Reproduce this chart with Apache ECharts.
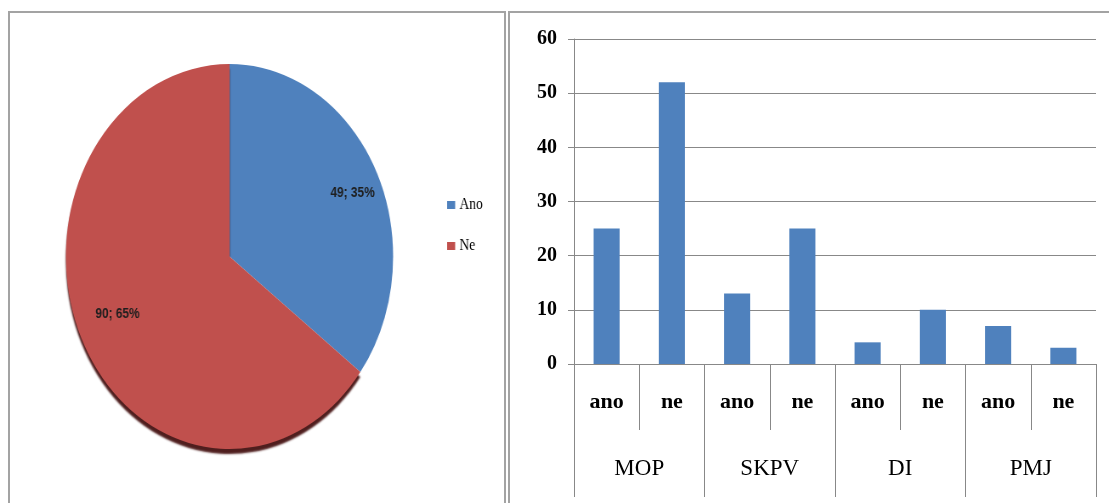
<!DOCTYPE html>
<html>
<head>
<meta charset="utf-8">
<script src="https://cdn.jsdelivr.net/npm/echarts@6/dist/echarts.min.js"></script>
<style>
  html, body { margin: 0; padding: 0; background: #fff; }
  #main { position: absolute; left: 0; top: 0; width: 1109px; height: 503px; }
  /* the pie is an ellipse in the picture: draw a round pie and squash it sideways */
  #pie { position: absolute; left: 0; top: 0; width: 600px; height: 503px;
         transform: scaleX(0.85); transform-origin: 0 0; }
</style>
</head>
<body>
<div id="main"></div>
<div id="pie"></div>
<script>
// pie data
var pieNames = ["Ano", "Ne"];
var pieValues = [49, 90];
var pieColors = ["#4f81bd", "#c0504d"];

// bar data
var subCategories = ["ano", "ne", "ano", "ne", "ano", "ne", "ano", "ne"];
var groups = ["MOP", "SKPV", "DI", "PMJ"];
var barValues = [25, 52, 13, 25, 4, 10, 7, 3];

// y axis ticks
var yMin = 0;
var yMax = 60;
var yStep = 10;

var pieChart = echarts.init(document.getElementById("pie"));
var mainChart = echarts.init(document.getElementById("main"));

var pieData = [];
for (var i = 0; i < pieNames.length; i++) {
  var item = { name: pieNames[i], value: pieValues[i], itemStyle: { color: pieColors[i] } };
  if (i === 1) {
    // dark edge under the red slice
    item.itemStyle.shadowColor = "rgba(70,18,18,0.95)";
    item.itemStyle.shadowOffsetY = 5;
    item.itemStyle.shadowBlur = 2;
  }
  pieData.push(item);
}

var labelShift = [
  { dx: 56, dy: -19 },
  { dx: -43, dy: 13 },
];

pieChart.setOption({
  animation: false,
  legend: {
    data: pieNames,
    orient: "vertical",
    left: 521,
    top: 192,
    icon: "rect",
    itemWidth: 9.5,
    itemHeight: 8,
    itemGap: 25,
    selectedMode: false,
    textStyle: { fontFamily: "Liberation Serif", fontSize: 16, color: "#000" },
  },
  series: [
    {
      type: "pie",
      center: [270, 256.5],
      radius: 192.5,
      startAngle: 90,
      clockwise: true,
      percentPrecision: 0,
      avoidLabelOverlap: false,
      silent: true,
      itemStyle: { borderWidth: 0 },
      label: {
        show: true,
        position: "inside",
        formatter: "{c}; {d}%",
        fontFamily: "Liberation Sans",
        fontWeight: "bold",
        fontSize: 14,
        color: "#1e1e1e",
      },
      labelLine: { show: false },
      labelLayout: function (params) {
        return labelShift[params.dataIndex];
      },
      data: pieData,
    },
  ],
});

mainChart.setOption({
  animation: false,
  graphic: [
    {
      type: "rect",
      shape: { x: 9, y: 12, width: 496, height: 520 },
      style: { fill: "transparent", stroke: "#a3a3a3", lineWidth: 2 },
      silent: true,
    },
    {
      type: "rect",
      shape: { x: 509, y: 12, width: 640, height: 520 },
      style: { fill: "transparent", stroke: "#a3a3a3", lineWidth: 2 },
      silent: true,
    },
  ],
  grid: { left: 574, right: 13, top: 39, bottom: 139 },
  yAxis: {
    type: "value",
    min: yMin,
    max: yMax,
    interval: yStep,
    axisLine: { show: true, lineStyle: { color: "#888", width: 1 } },
    axisTick: { show: true, length: 6, lineStyle: { color: "#888" } },
    axisLabel: {
      margin: 17,
      fontFamily: "Liberation Serif",
      fontWeight: "bold",
      fontSize: 20,
      color: "#000",
    },
    splitLine: { show: true, lineStyle: { color: "#888", width: 1 } },
  },
  xAxis: [
    {
      type: "category",
      data: subCategories,
      position: "bottom",
      axisLine: { show: true, lineStyle: { color: "#888", width: 1 } },
      axisTick: { show: true, interval: 0, length: 66, lineStyle: { color: "#888" } },
      axisLabel: {
        interval: 0,
        margin: 27,
        fontFamily: "Liberation Serif",
        fontWeight: "bold",
        fontSize: 22,
        color: "#000",
      },
    },
    {
      type: "category",
      data: groups,
      position: "bottom",
      axisLine: { show: false },
      axisTick: { show: true, interval: 0, length: 133, lineStyle: { color: "#888" } },
      axisLabel: {
        interval: 0,
        margin: 93,
        fontFamily: "Liberation Serif",
        fontSize: 23,
        color: "#000",
      },
    },
  ],
  series: [
    {
      type: "bar",
      xAxisIndex: 0,
      yAxisIndex: 0,
      barWidth: "40%",
      itemStyle: { color: "#4f81bd" },
      silent: true,
      data: barValues,
    },
  ],
});
</script>
</body>
</html>
